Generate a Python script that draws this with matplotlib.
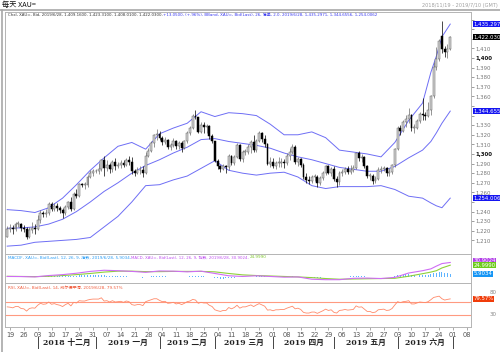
import matplotlib
matplotlib.use("Agg")
import matplotlib.pyplot as plt
import matplotlib.transforms as mtransforms
from matplotlib.lines import Line2D
import numpy as np
import pandas as pd

plt.rcParams["font.family"] = ["DejaVu Sans", "Noto Sans CJK SC"]

# ---- data -------------------------------------------------------------
start_date = "2018-11-16"
end_date = "2019-06-28"
axis_end_date = "2019-07-12"

opens = [1214, 1222, 1223, 1222, 1227, 1227, 1223, 1222, 1214, 1221, 1223,
         1222, 1231, 1239, 1237, 1238, 1248, 1243, 1246, 1244, 1242,
         1238, 1245, 1250, 1243, 1258, 1256, 1269, 1268, 1268, 1276,
         1280, 1282, 1282, 1284, 1294, 1285, 1289, 1284, 1292, 1287,
         1289, 1291, 1288, 1294, 1292, 1282, 1280, 1283, 1283, 1280,
         1298, 1303, 1311, 1320, 1321, 1317, 1312, 1315, 1307, 1309,
         1314, 1308, 1311, 1306, 1313, 1322, 1327, 1340, 1338, 1323,
         1330, 1328, 1329, 1319, 1313, 1293, 1287, 1284, 1287, 1286,
         1298, 1291, 1297, 1309, 1295, 1302, 1302, 1307, 1312, 1304,
         1313, 1322, 1316, 1310, 1290, 1292, 1287, 1291, 1291, 1292,
         1291, 1298, 1302, 1307, 1292, 1295, 1289, 1276, 1273, 1272,
         1276, 1276, 1270, 1275, 1280, 1287, 1280, 1284, 1274, 1271,
         1280, 1281, 1284, 1281, 1283, 1285, 1301, 1296, 1297, 1287,
         1277, 1277, 1272, 1274, 1283, 1284, 1285, 1280, 1281, 1288,
         1305, 1327, 1324, 1333, 1336, 1341, 1327, 1327, 1334, 1342,
         1341, 1340, 1346, 1360, 1391, 1399, 1423, 1409, 1406, 1409.16]
highs = [1225, 1227, 1226, 1229, 1230, 1228, 1226, 1224, 1224, 1229, 1227,
         1236, 1242, 1241, 1243, 1250, 1250, 1249, 1249, 1246, 1244,
         1247, 1251, 1255, 1260, 1263, 1270, 1270, 1271, 1278, 1283,
         1284, 1284, 1291, 1295, 1298, 1294, 1291, 1294, 1296, 1292,
         1294, 1294, 1296, 1298, 1297, 1284, 1286, 1287, 1287, 1302,
         1306, 1313, 1321, 1326, 1324, 1319, 1318, 1316, 1311, 1317,
         1315, 1314, 1313, 1315, 1324, 1329, 1342, 1346, 1339, 1333,
         1333, 1331, 1330, 1321, 1314, 1295, 1289, 1290, 1289, 1300,
         1299, 1299, 1311, 1310, 1304, 1305, 1310, 1315, 1320, 1316,
         1324, 1323, 1320, 1311, 1297, 1296, 1293, 1297, 1296, 1295,
         1301, 1306, 1310, 1309, 1297, 1296, 1291, 1280, 1277, 1278,
         1279, 1278, 1277, 1282, 1289, 1288, 1286, 1287, 1277, 1282,
         1284, 1286, 1287, 1288, 1288, 1302, 1303, 1300, 1298, 1288,
         1280, 1279, 1277, 1286, 1287, 1287, 1286, 1285, 1290, 1306,
         1329, 1330, 1335, 1341, 1348, 1342, 1331, 1336, 1344, 1358,
         1344, 1354, 1361, 1396, 1411, 1420, 1439, 1413, 1415, 1423.31]
lows = [1213, 1219, 1217, 1220, 1224, 1220, 1219, 1211, 1212, 1218, 1217,
        1221, 1228, 1234, 1234, 1236, 1241, 1241, 1241, 1239, 1233,
        1236, 1243, 1241, 1242, 1254, 1255, 1266, 1264, 1266, 1275,
        1277, 1280, 1279, 1282, 1277, 1282, 1280, 1281, 1283, 1285,
        1285, 1286, 1287, 1289, 1279, 1277, 1279, 1279, 1276, 1279,
        1297, 1302, 1307, 1315, 1315, 1309, 1310, 1305, 1304, 1307,
        1305, 1305, 1302, 1305, 1311, 1320, 1326, 1336, 1322, 1322,
        1322, 1322, 1316, 1311, 1292, 1284, 1281, 1283, 1280, 1283,
        1288, 1289, 1296, 1293, 1292, 1299, 1300, 1301, 1302, 1302,
        1312, 1312, 1307, 1288, 1286, 1285, 1284, 1286, 1286, 1285,
        1288, 1294, 1300, 1290, 1287, 1286, 1274, 1270, 1269, 1270,
        1272, 1266, 1268, 1273, 1278, 1279, 1277, 1272, 1266, 1268,
        1277, 1279, 1279, 1279, 1281, 1284, 1293, 1292, 1285, 1275,
        1273, 1269, 1270, 1273, 1280, 1282, 1277, 1277, 1279, 1286,
        1304, 1320, 1323, 1328, 1332, 1324, 1322, 1326, 1332, 1335,
        1335, 1338, 1341, 1358, 1388, 1397, 1405, 1401, 1400, 1408.01]
closes = [1222, 1223, 1222, 1227, 1227, 1223, 1222, 1214, 1221, 1223, 1222,
          1231, 1239, 1237, 1238, 1248, 1243, 1246, 1244, 1242, 1238,
          1245, 1250, 1243, 1258, 1256, 1269, 1268, 1268, 1276, 1280,
          1282, 1282, 1284, 1294, 1285, 1289, 1284, 1292, 1287, 1289,
          1291, 1288, 1294, 1292, 1282, 1280, 1283, 1283, 1280, 1298,
          1303, 1311, 1320, 1321, 1317, 1312, 1315, 1307, 1309, 1314,
          1308, 1311, 1306, 1313, 1322, 1327, 1340, 1338, 1323, 1330,
          1328, 1329, 1319, 1313, 1293, 1287, 1284, 1287, 1286, 1298,
          1291, 1297, 1309, 1295, 1302, 1302, 1307, 1312, 1304, 1313,
          1322, 1316, 1310, 1290, 1292, 1287, 1291, 1291, 1292, 1291,
          1298, 1302, 1307, 1292, 1295, 1289, 1276, 1273, 1272, 1276,
          1276, 1270, 1275, 1280, 1287, 1280, 1284, 1274, 1271, 1280,
          1281, 1284, 1281, 1283, 1285, 1301, 1296, 1297, 1287, 1277,
          1277, 1272, 1274, 1283, 1284, 1285, 1280, 1281, 1288, 1305,
          1327, 1324, 1333, 1336, 1341, 1327, 1327, 1334, 1342, 1341,
          1340, 1346, 1360, 1391, 1399, 1418, 1409, 1406, 1409, 1422.03]

# indicator samples
sample_dates = ["2018-11-16", "2018-11-23", "2018-11-30", "2018-12-07", "2018-12-14",
                "2018-12-21", "2018-12-28", "2019-01-04", "2019-01-11", "2019-01-18",
                "2019-01-25", "2019-02-01", "2019-02-08", "2019-02-15", "2019-02-22",
                "2019-03-01", "2019-03-08", "2019-03-15", "2019-03-22", "2019-03-29",
                "2019-04-05", "2019-04-12", "2019-04-19", "2019-04-26", "2019-05-03",
                "2019-05-10", "2019-05-17", "2019-05-24", "2019-05-31", "2019-06-07",
                "2019-06-14", "2019-06-19", "2019-06-21", "2019-06-25", "2019-06-28"]
bb_upper = [1242, 1241, 1239, 1244, 1254, 1268, 1283, 1296, 1308, 1312, 1305, 1321,
            1327, 1332, 1344, 1339, 1343, 1342, 1340, 1331, 1320, 1320, 1323, 1317,
            1304, 1302, 1300, 1297, 1312, 1335, 1353, 1385, 1402, 1422, 1435.2971]
bb_mid = [1222.6, 1223, 1224, 1227, 1232, 1240, 1250, 1261, 1270, 1280, 1288, 1294,
          1301, 1307, 1315, 1316, 1313, 1311, 1309, 1306, 1301, 1297, 1294, 1290,
          1286, 1284, 1282, 1282, 1287, 1296, 1304, 1313, 1322, 1332, 1344.6556]
bb_lower = [1204, 1205, 1208, 1209, 1210, 1211, 1213, 1224, 1235, 1250, 1267, 1268,
            1273, 1277, 1285, 1293, 1283, 1280, 1278, 1280, 1281, 1276, 1267, 1264,
            1266, 1266, 1266, 1267, 1263, 1256, 1254, 1249, 1246, 1244, 1254.0062]
macd = [0.5, 0.3, -0.5, 2.5, 4.5, 7.5, 11.5, 14.0, 13.0, 11.5, 9.5, 12.5, 12.0, 10.5,
        12.0, 7.0, 2.0, 0.5, 2.0, 0.5, -1.0, -0.5, -5.5, -6.5, -6.5, -3.5, -3.0, -4.0,
        -1.5, 8.0, 13.0, 17.0, 23.0, 28.5, 30.9024]
macd_signal = [0.8, 0.5, 0.2, 0.8, 2.5, 4.5, 7.0, 10.0, 12.0, 12.0, 11.0, 11.0, 11.5,
               11.5, 11.5, 10.5, 7.0, 4.0, 2.5, 1.5, 0.5, -0.5, -2.0, -4.0, -5.5, -5.0,
               -4.5, -4.0, -3.5, 1.0, 6.5, 10.0, 13.0, 19.0, 24.999]
macd_hist = [0.3, 0.2, 0.0, 0.2, 0.2, 0.0, -0.2, -0.8, -0.6, -0.4, -0.4,
             0.5, 1.4, 1.6, 1.8, 2.4, 2.0, 2.0, 1.8, 1.5, 1.0,
             1.2, 1.5, 1.0, 1.8, 1.9, 2.6, 2.8, 2.8, 3.2, 3.5,
             3.6, 3.5, 3.3, 3.8, 2.8, 2.5, 1.8, 1.8, 1.2, 1.0,
             0.8, 0.5, 0.6, 0.4, -0.5, -1.2, -1.4, -1.5, -1.8, -0.6,
             0.3, 1.2, 2.2, 2.4, 1.8, 1.0, 0.8, 0.2, 0.0, 0.1,
             -0.3, -0.3, -0.6, -0.4, 0.2, 0.6, 1.5, 1.6, 0.6, 0.8,
             0.5, 0.4, -0.4, -1.2, -2.8, -3.8, -4.2, -4.0, -3.8, -2.9,
             -2.8, -2.2, -1.2, -1.4, -1.0, -0.7, -0.2, 0.3, 0.1, 0.5,
             1.0, 0.9, 0.5, -0.8, -1.2, -1.5, -1.4, -1.2, -1.0, -0.8,
             -0.3, 0.2, 0.8, 0.2, 0.2, -0.2, -1.4, -2.2, -2.6, -2.5,
             -2.3, -2.4, -2.0, -1.4, -0.6, -0.6, -0.3, -0.9, -1.1, -0.4,
             0.0, 0.4, 0.4, 0.6, 0.8, 1.8, 1.8, 1.8, 1.2, 0.2,
             -0.2, -0.8, -0.8, -0.2, 0.1, 0.2, 0.0, 0.0, 0.2, 1.2,
             3.0, 3.6, 4.4, 5.0, 5.6, 4.6, 4.0, 4.0, 4.2, 4.0,
             3.6, 3.8, 4.8, 7.5, 9.0, 10.0, 9.5, 8.0, 7.0, 5.9034]
rsi = [55, 54, 52, 56, 56, 50, 49, 42, 50, 52, 51,
       60, 66, 63, 64, 70, 63, 65, 62, 60, 56,
       62, 66, 58, 69, 67, 74, 73, 73, 76, 78,
       79, 79, 79, 83, 73, 74, 70, 74, 70, 71,
       72, 69, 73, 71, 62, 60, 62, 62, 59, 71,
       74, 77, 80, 80, 75, 71, 72, 66, 67, 69,
       64, 66, 62, 66, 71, 73, 78, 76, 66, 69,
       67, 67, 60, 56, 46, 43, 41, 44, 44, 53,
       49, 53, 60, 51, 55, 55, 58, 61, 56, 61,
       65, 61, 57, 45, 46, 43, 46, 46, 47, 47,
       51, 54, 57, 49, 51, 47, 38, 36, 36, 39,
       39, 35, 39, 43, 48, 44, 46, 38, 36, 44,
       45, 47, 45, 46, 47, 58, 54, 55, 48, 41,
       41, 37, 39, 46, 47, 48, 44, 45, 50, 61,
       71, 68, 71, 72, 74, 64, 64, 67, 70, 69,
       68, 71, 77, 84, 86, 88, 80, 76, 78, 79.57]
rsi_levels = [70, 30]

month_labels = ["2018 十二月", "2019 一月", "2019 二月", "2019 三月",
                "2019 四月", "2019 五月", "2019 六月"]
month_starts = ["2018-12-03", "2019-01-01", "2019-02-01", "2019-03-01",
                "2019-04-01", "2019-05-01", "2019-06-03", "2019-07-01"]

# ---- helpers ----------------------------------------------------------
W, H = 500, 352
days = pd.bdate_range(start_date, axis_end_date)
pos = {d: i for i, d in enumerate(days)}


def idx(d):
    return pos[pd.Timestamp(d)]


def rect(x0, y0, x1, y1):
    return [x0 / W, 1 - y1 / H, (x1 - x0) / W, (y1 - y0) / H]


n = len(closes)
x = np.arange(n)
sx = [idx(d) for d in sample_dates]

fig = plt.figure(figsize=(W / 100, H / 100), dpi=100)
fig.patch.set_facecolor("white")

XL = (-0.8, 167.5)
GRID = "#b4b4b4"
ax = fig.add_axes(rect(5, 12, 471, 254))
ax_m = fig.add_axes(rect(5, 254, 471, 283))
ax_r = fig.add_axes(rect(5, 283, 471, 327))
for a in (ax, ax_m, ax_r):
    a.set_xlim(*XL)
    for s in a.spines.values():
        s.set_color(GRID)
        s.set_linewidth(0.7)
    a.yaxis.tick_right()
    a.tick_params(axis="y", length=2, width=0.5, colors="#777777", labelsize=3.9, pad=1)
    a.tick_params(axis="x", length=0)
    a.set_xticks([])
    a.set_facecolor("white")

# ---- candles + bollinger ----------------------------------------------
o = np.array(opens)
c = np.array(closes)
hi = np.array(highs)
lo = np.array(lows)
up = c >= o
ax.vlines(x[up], lo[up], hi[up], color="#6a6a6a", lw=0.5, zorder=2)
ax.vlines(x[~up], lo[~up], hi[~up], color="#000000", lw=0.5, zorder=2)
body_lo = np.minimum(o, c)
body_h = np.maximum(np.abs(c - o), 0.6)
ax.bar(x[up], body_h[up], bottom=body_lo[up], width=0.7, color="#d4d4d4",
       edgecolor="#606060", linewidth=0.35, zorder=3)
ax.bar(x[~up], body_h[~up], bottom=body_lo[~up], width=0.7, color="#000000",
       edgecolor="#000000", linewidth=0.35, zorder=3)
for band in (bb_upper, bb_mid, bb_lower):
    ax.plot(sx, band, color="#6e6ef5", lw=0.7, zorder=1)

# value labels hidden behind the coloured boxes are left blank
covered = {1250, 1340, 1350, 1420, 1430, 1440}
ax.set_ylim(1195.8, 1447.9)
ax.set_yticks(np.arange(1210, 1441, 10))
ax.set_yticklabels(["" if v in covered else f"{v:,}" for v in range(1210, 1441, 10)])
for t, v in zip(ax.get_yticklabels(), range(1210, 1441, 10)):
    if v % 100 == 0:
        t.set_color("#111111")
        t.set_fontweight("bold")

ytr = mtransforms.blended_transform_factory(ax.transAxes, ax.transData)
box_kw = dict(ha="left", va="center", fontsize=3.9, color="white", zorder=10, clip_on=False)
ax.text(1.005, bb_upper[-1], "1,435.297", transform=ytr,
        bbox=dict(boxstyle="square,pad=0.15", fc="#1515f0", ec="none"), **box_kw)
ax.text(1.005, closes[-1], "1,422.030", transform=ytr,
        bbox=dict(boxstyle="square,pad=0.15", fc="#000000", ec="none"), **box_kw)
ax.text(1.005, bb_mid[-1], "1,344.655", transform=ytr,
        bbox=dict(boxstyle="square,pad=0.15", fc="#1515f0", ec="none"), **box_kw)
ax.text(1.005, bb_lower[-1], "1,254.006", transform=ytr,
        bbox=dict(boxstyle="square,pad=0.15", fc="#1515f0", ec="none"), **box_kw)

# ---- MACD -------------------------------------------------------------
ax_m.bar(x, macd_hist, width=0.35, color="#5fb4ff", zorder=1)
ax_m.plot(sx, macd_signal, color="#8fd13a", lw=0.8, zorder=2)
ax_m.plot(sx, macd, color="#cf6cf5", lw=0.8, zorder=3)
ax_m.set_ylim(-13.7, 49.3)
ax_m.set_yticks([])
mtr = mtransforms.blended_transform_factory(ax_m.transAxes, ax_m.transData)
ax_m.text(1.005, 35, "30.9024", transform=mtr,
          bbox=dict(boxstyle="square,pad=0.1", fc="#b23ee8", ec="none"), **box_kw)
ax_m.text(1.005, 25, "24.9990", transform=mtr,
          bbox=dict(boxstyle="square,pad=0.1", fc="#6ccc1a", ec="none"), **box_kw)
ax_m.text(1.005, 5.9, "5.9034", transform=mtr,
          bbox=dict(boxstyle="square,pad=0.1", fc="#1595f5", ec="none"), **box_kw)

# ---- RSI --------------------------------------------------------------
for lv in rsi_levels:
    ax_r.axhline(lv, color="#ff9a80", lw=0.8, zorder=1)
ax_r.plot(x, rsi, color="#ff8a6a", lw=0.6, zorder=2)
ax_r.set_ylim(-7, 128.5)
ax_r.set_yticks([])
rtr = mtransforms.blended_transform_factory(ax_r.transAxes, ax_r.transData)
ax_r.text(1.005, rsi[-1], "79.57%", transform=rtr,
          bbox=dict(boxstyle="square,pad=0.15", fc="#f03c0a", ec="none"), **box_kw)
ax_r.text(1.04, 30, "30", transform=rtr, ha="left", va="center", fontsize=4.0,
          color="#888888", clip_on=False)
ax_r.text(1.04, 100, "80", transform=rtr, ha="left", va="center", fontsize=4.0,
          color="#888888", clip_on=False)

# date ticks on the bottom pane
mondays = [d for d in days if d.weekday() == 0 and d >= pd.Timestamp("2018-11-19")]
ax_r.set_xticks([pos[d] for d in mondays])
ax_r.set_xticklabels([d.strftime("%d") for d in mondays])
ax_r.tick_params(axis="x", length=2, width=0.5, colors="#888888", labelsize=4.8,
                 pad=1.5, labelcolor="#555555")

# month row
mtrans = mtransforms.blended_transform_factory(ax_r.transData, fig.transFigure)
ms = [idx(d) for d in month_starts]
for m in ms:
    fig.add_artist(Line2D([m, m], [1 - 337 / H, 1 - 348 / H], transform=mtrans,
                          color="#444444", lw=0.7))
for lab, a0, a1 in zip(month_labels, ms[:-1], ms[1:]):
    fig.text((a0 + a1) / 2, 1 - 343 / H, lab, transform=mtrans, ha="center",
             va="center", fontsize=5.6, fontweight="bold", color="#222222",
             family=["DejaVu Serif", "Noto Sans CJK SC"])

# ---- frame and header texts --------------------------------------------
fig.add_artist(Line2D([0, 1], [1 - 10 / H, 1 - 10 / H], transform=fig.transFigure,
                      color="#a8a8a8", lw=1.2))
fig.add_artist(Line2D([1.5 / W, 1.5 / W], [0, 1 - 10 / H], transform=fig.transFigure,
                      color="#a8a8a8", lw=1.2))
fig.text(2 / W, 1 - 5 / H, "每天 XAU=", ha="left", va="center", fontsize=5.2,
         color="#111111", family=["Noto Sans CJK SC"])
fig.text(498 / W, 1 - 6 / H, "2018/11/19 - 2019/7/10 (GMT)", ha="right", va="center",
         fontsize=3.6, color="#a0a0a0")

renderer = fig.canvas.get_renderer()


def fitted(xpx, ypx, width_px, s, color, size=4.0):
    t = fig.text(xpx / W, 1 - ypx / H, s, ha="left", va="center", fontsize=size,
                 color=color)
    bb = t.get_window_extent(renderer=renderer)
    t.set_fontsize(size * width_px / bb.width)
    return t


fitted(8, 14.5, 153, "Chxl, XAU=, Bid, 2019/6/28, 1,409.1600, 1,423.3100, 1,408.0100, 1,422.0300,",
       "#333333")
fitted(163, 14.5, 212, "+13.0500, (+.96%), BBand, XAU=, Bid(Last), 26, 简单, 2.0, 2019/6/28, "
       "1,435.2971, 1,344.6556, 1,254.0062", "#3a3af0")
fitted(8, 257.5, 122, "MACDF, XAU=, Bid(Last), 12, 26, 9, 指数, 2019/6/28, 5.9034,", "#2a9df5")
fitted(131, 257.5, 117, "MACD, XAU=, Bid(Last), 12, 26, 9, 指数, 2019/6/28, 30.9024,", "#c050f0")
fitted(250, 257.5, 17, "24.9990", "#7cc52a")
fitted(8, 288, 114, "RSI, XAU=, Bid(Last), 14, 威尔德平滑, 2019/6/28, 79.57%", "#f05a3a")

fig.savefig("out.png", dpi=100)
